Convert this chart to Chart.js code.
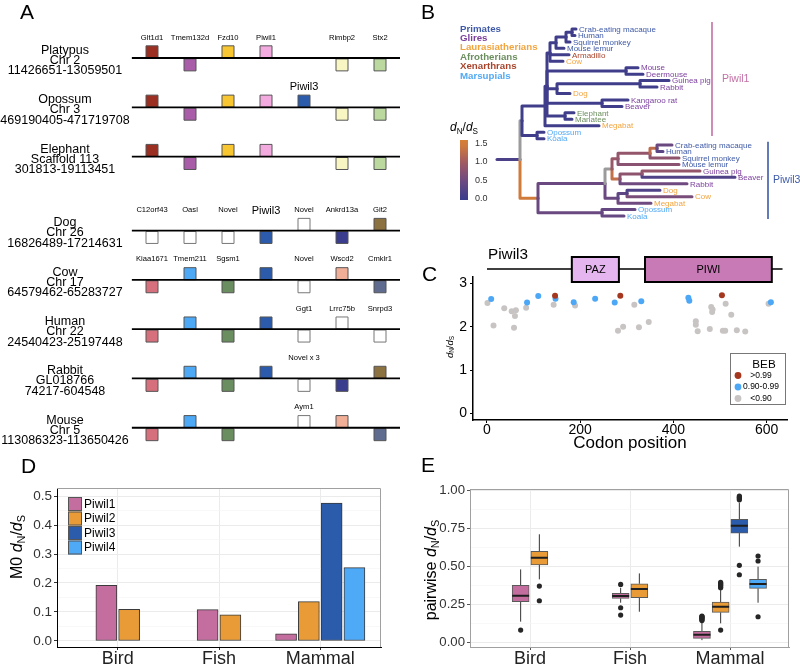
<!DOCTYPE html>
<html>
<head>
<meta charset="utf-8">
<title>Piwil3 evolution figure</title>
<script src="https://cdn.jsdelivr.net/npm/chart.js@4.4.1/dist/chart.umd.min.js"></script>
<style>
html,body{margin:0;padding:0;background:#fff;}
body{width:800px;height:667px;position:relative;overflow:hidden;font-family:"Liberation Sans",Arial,sans-serif;}
canvas{position:absolute;}
.plab{position:absolute;font-size:21px;line-height:21px;color:#000;font-family:"Liberation Sans",Arial,sans-serif;}
</style>
</head>
<body>
<canvas id="cA" width="400" height="460" style="left:0;top:0"></canvas>
<canvas id="cB" width="400" height="235" style="left:400px;top:0"></canvas>
<canvas id="cC" width="400" height="225" style="left:400px;top:235px"></canvas>
<canvas id="cD" width="400" height="197" style="left:0;top:470px"></canvas>
<canvas id="cE" width="400" height="197" style="left:400px;top:470px"></canvas>
<div class="plab" style="left:20px;top:1px">A</div>
<div class="plab" style="left:421px;top:1px">B</div>
<div class="plab" style="left:422px;top:263px">C</div>
<div class="plab" style="left:21px;top:455px">D</div>
<div class="plab" style="left:421px;top:454px">E</div>
<script>
const FONT = '"Liberation Sans", Arial, sans-serif';
Chart.defaults.font.family = FONT;
Chart.defaults.color = '#000';

/* ================= Panel A data ================= */
const speciesNames = ['Platypus','Opossum','Elephant','Dog','Cow','Human','Rabbit','Mouse'];
const speciesChr = ['Chr 2','Chr 3','Scaffold 113','Chr 26','Chr 17','Chr 22','GL018766','Chr 5'];
const speciesRange = ['11426651-13059501','469190405-471719708','301813-19113451','16826489-17214631','64579462-65283727','24540423-25197448','74217-604548','113086323-113650426'];
const trackRows = [0, 1, 2, 3.5, 4.5, 5.5, 6.5, 7.5];
const geneColor = {
  Glt1d1:'#9B2F22', Tmem132d:'#A95DA9', Fzd10:'#F8C631', Piwil1:'#F3AADF', Piwil3:'#2B5BAA',
  Rimbp2:'#F8F7C4', Stx2:'#BBD89F', Novel:'#FFFFFF', C12orf43:'#FFFFFF', Oasl:'#FFFFFF',
  Ankrd13a:'#3A3C8E', Git2:'#8C7141', Kiaa1671:'#D6707D', Tmem211:'#4DA8F6', Sgsm1:'#6A8E5F',
  Wscd2:'#F2AF98', Cmklr1:'#606C8F', Ggt1:'#FFFFFF', Lrrc75b:'#FFFFFF', Snrpd3:'#FFFFFF', Aym1:'#FFFFFF'
};
// [gene, column, strand side]
const genesPlatypus = [['Glt1d1',0,'up'],['Tmem132d',1,'down'],['Fzd10',2,'up'],['Piwil1',3,'up'],['Rimbp2',5,'down'],['Stx2',6,'down']];
const genesOpossum  = [['Glt1d1',0,'up'],['Tmem132d',1,'down'],['Fzd10',2,'up'],['Piwil1',3,'up'],['Piwil3',4,'up'],['Rimbp2',5,'down'],['Stx2',6,'down']];
const genesElephant = [['Glt1d1',0,'up'],['Tmem132d',1,'down'],['Fzd10',2,'up'],['Piwil1',3,'up'],['Rimbp2',5,'down'],['Stx2',6,'down']];
const genesDog      = [['C12orf43',0,'down'],['Oasl',1,'down'],['Novel',2,'down'],['Piwil3',3,'down'],['Novel',4,'up'],['Ankrd13a',5,'down'],['Git2',6,'up']];
const genesCow      = [['Kiaa1671',0,'down'],['Tmem211',1,'up'],['Sgsm1',2,'down'],['Piwil3',3,'up'],['Novel',4,'down'],['Wscd2',5,'up'],['Cmklr1',6,'down']];
const genesHuman    = [['Kiaa1671',0,'down'],['Tmem211',1,'up'],['Sgsm1',2,'down'],['Piwil3',3,'up'],['Ggt1',4,'down'],['Lrrc75b',5,'up'],['Snrpd3',6,'down']];
const genesRabbit   = [['Kiaa1671',0,'down'],['Tmem211',1,'up'],['Sgsm1',2,'down'],['Piwil3',3,'up'],['Novel',4,'down'],['Ankrd13a',5,'down'],['Git2',6,'up']];
const genesMouse    = [['Kiaa1671',0,'down'],['Tmem211',1,'up'],['Sgsm1',2,'down'],['Aym1',4,'up'],['Wscd2',5,'up'],['Cmklr1',6,'down']];
const speciesGenes = [genesPlatypus, genesOpossum, genesElephant, genesDog, genesCow, genesHuman, genesRabbit, genesMouse];
const labelRow  = [0,0,0,0,0,0, 1, 3,3,3,3,3,3,3, 4,4,4,4,4,4, 5,5,5, 6, 7];
const labelCol  = [0,1,2,3,5,6, 4, 0,1,2,3,4,5,6, 0,1,2,4,5,6, 4,5,6, 4, 4];
const labelText = ['Glt1d1','Tmem132d','Fzd10','Piwil1','Rimbp2','Stx2','Piwil3',
  'C12orf43','Oasl','Novel','Piwil3','Novel','Ankrd13a','Git2',
  'Kiaa1671','Tmem211','Sgsm1','Novel','Wscd2','Cmklr1','Ggt1','Lrrc75b','Snrpd3','Novel x 3','Aym1'];

/* ================= Panel B data ================= */
const groupNames = ['Primates','Glires','Laurasiatherians','Afrotherians','Xenarthrans','Marsupials'];
const groupColors = ['#3F5AA8','#7B3F9E','#F2A53F','#6C8F5F','#A9442C','#52A9F5'];
const tipNames = ['Crab-eating macaque','Human','Squirrel monkey','Mouse lemur','Armadillo','Cow','Mouse','Deermouse','Guinea pig','Rabbit','Dog','Kangaroo rat','Beaver','Elephant','Manatee','Megabat','Opossum','Koala',
  'Crab-eating macaque','Human','Squirrel monkey','Mouse lemur','Guinea pig','Beaver','Rabbit','Dog','Cow','Megabat','Opossum','Koala'];
const tipGroup = [0,0,0,0,4,2,1,1,1,1,2,1,1,3,3,2,5,5, 0,0,0,0,1,1,1,2,2,2,5,5];
const tipDepth = [79,78,73,67,72,66,141,146,172,160,73,131,125,77,75,102,47,47, 175,166,182,182,203,238,190,163,195,154,138,127];
const tipRatio = [0.05,0.05,0.05,0.05,0.05,0.05,0.05,0.05,0.05,0.05,0.05,0.05,0.05,0.05,0.05,0.05,0.05,0.05,
  0.45,0.3,0.8,0.75,0.85,0.2,0.5,0.2,0.6,0.5,0.4,0.4];
const nodeNames = ['C1','A1','Pr1','T1','MD1','GR1','GD1','KB1','EM1','Y1','M1','MP1','P1',
  'C3','A3','Pr3','GB3','Gl3','EG3','DC3','L3','E3','MP3','P3','Root'];
const nodeChildren = [[0,1],['C1',2],['A1',3],['Pr1',4,5],[6,7],[8,9],['GR1',10],[11,12],[13,14],['T1','MD1','GD1','KB1','EM1'],['Y1',15],[16,17],['M1','MP1'],
  [18,19],['C3',20],['A3',21],[22,23],['GB3',24],['Pr3','Gl3'],[25,26],['DC3',27],['EG3','L3'],[28,29],['E3','MP3'],['P1','P3']];
const nodeDepth = [75,69,59,53,129,143,60,105,68,50,48,40,25, 160,153,121,145,123,115,130,121,108,105,41,23];
const nodeRatio = [0.05,0.05,0.05,0.05,0.05,0.05,0.05,0.05,0.05,0.05,0.05,0.05,null,
  1.25,0.85,0.9,0.8,1.3,null,0.35,0.45,0.45,0.45,1.45,0.15];
const cladeNames = ['Piwil1','Piwil3'];
const cladeFirstTip = [0,18];
const cladeLastTip = [17,29];
const cladeColors = ['#C470A6','#3E5BA9'];
const rampValues = [0, 0.5, 1.0, 1.5];
const rampRGB = [[59,61,140],[111,74,128],[163,91,98],[214,127,54]];
const colorbarTicks = [0, 0.5, 1.0, 1.5];

/* ================= Panel C data ================= */
const proteinLength = 634;
const domainNames = ['PAZ','PIWI'];
const domainStart = [182, 339];
const domainEnd = [283, 611];
const domainFill = ['#E5B5F0','#C77AB6'];
const bebHighCodon = [146, 286, 504];
const bebHighOmega = [2.72, 2.72, 2.73];
const bebMidCodon = [9, 86, 110, 147, 186, 232, 274, 331, 432, 434, 609];
const bebMidOmega = [2.64, 2.56, 2.71, 2.65, 2.57, 2.65, 2.56, 2.59, 2.67, 2.60, 2.57];
const bebLowCodon = [1, 14, 37, 53, 62, 60, 58, 84, 143, 189, 316, 281, 292, 326, 347, 448, 448, 452, 478, 481, 484, 483, 512, 524, 506, 511, 536, 554, 604];
const bebLowOmega = [2.55, 2.03, 2.43, 2.36, 2.38, 2.25, 1.98, 2.44, 2.51, 2.49, 2.51, 1.91, 2.00, 1.99, 2.11, 2.13, 2.05, 1.90, 1.95, 2.46, 2.40, 2.34, 2.53, 2.28, 1.91, 1.91, 1.92, 1.89, 2.53];
const bebLabels = ['>0.99','0.90-0.99','<0.90'];
const bebColors = ['#A5371F','#4CA7F6','#C9C4C4'];

/* ================= Panel D data ================= */
const taxa = ['Bird','Fish','Mammal'];
const piwiGenes = ['Piwil1','Piwil2','Piwil3','Piwil4'];
const piwiColors = ['#C46E9F','#E89B36','#2B5BAB','#4EA9F7'];
const m0Piwil1 = [0.192, 0.108, 0.025];
const m0Piwil2 = [0.109, 0.090, 0.136];
const m0Piwil3 = [null, null, 0.476];
const m0Piwil4 = [null, null, 0.253];
const m0Values = [m0Piwil1, m0Piwil2, m0Piwil3, m0Piwil4];

/* ================= Panel E data ================= */
const bxTaxon = ['Bird','Bird','Fish','Fish','Mammal','Mammal','Mammal','Mammal'];
const bxGene = ['Piwil1','Piwil2','Piwil1','Piwil2','Piwil1','Piwil2','Piwil3','Piwil4'];
const bxLower  = [0.138, 0.415, 0.262, 0.203, 0.017, 0.127, 0.629, 0.262];
const bxQ1     = [0.269, 0.509, 0.290, 0.295, 0.028, 0.199, 0.718, 0.356];
const bxMedian = [0.308, 0.557, 0.306, 0.352, 0.052, 0.236, 0.766, 0.384];
const bxQ3     = [0.376, 0.598, 0.323, 0.386, 0.074, 0.266, 0.808, 0.415];
const bxUpper  = [0.480, 0.710, 0.360, 0.454, 0.138, 0.345, 0.917, 0.498];
const bxOutliers = [[0.083],[0.371,0.275],[0.382,0.229,0.181],[],
  [0.145,0.151,0.157,0.162,0.167,0.171,0.175],[0.083,0.360,0.367,0.374,0.381,0.388,0.395],
  [0.507,0.445,0.936,0.945,0.953,0.960],[0.568,0.535,0.170]];

/* ================= helpers ================= */
function rampColor(v) {
  if (v === null || v === undefined) return '#9B9B9B';
  v = Math.max(0, Math.min(1.5, v));
  let k = 0;
  while (k < rampValues.length - 2 && v > rampValues[k + 1]) k++;
  const t = (v - rampValues[k]) / (rampValues[k + 1] - rampValues[k]);
  const c = rampRGB[k].map((a, j) => Math.round(a + (rampRGB[k + 1][j] - a) * t));
  return 'rgb(' + c.join(',') + ')';
}
function drawRatio(ctx, x, y, size, prefix, align, color) {
  const sub = size * 0.68;
  const segs = [];
  if (prefix) segs.push({t: prefix, f: size + 'px ' + FONT, dy: 0});
  segs.push({t: 'd', f: 'italic ' + size + 'px ' + FONT, dy: 0});
  segs.push({t: 'N', f: sub + 'px ' + FONT, dy: size * 0.28});
  segs.push({t: '/', f: size + 'px ' + FONT, dy: 0});
  segs.push({t: 'd', f: 'italic ' + size + 'px ' + FONT, dy: 0});
  segs.push({t: 'S', f: sub + 'px ' + FONT, dy: size * 0.28});
  ctx.save();
  ctx.fillStyle = color || '#000';
  ctx.textBaseline = 'middle';
  ctx.textAlign = 'left';
  let w = 0;
  segs.forEach(s => { ctx.font = s.f; s.w = ctx.measureText(s.t).width; w += s.w; });
  let cx = align === 'center' ? x - w / 2 : x;
  segs.forEach(s => { ctx.font = s.f; ctx.fillText(s.t, cx, y + s.dy); cx += s.w; });
  ctx.restore();
}
function drawRatioRotated(ctx, x, y, size, prefix) {
  ctx.save();
  ctx.translate(x, y);
  ctx.rotate(-Math.PI / 2);
  drawRatio(ctx, 0, 0, size, prefix, 'center', '#000');
  ctx.restore();
}
const fixedTicks = list => s => { s.ticks = list.map(v => ({value: v})); };
const baseOpts = {
  responsive: false, animation: false, devicePixelRatio: 1, events: [],
  plugins: {legend: {display: false}, tooltip: {enabled: false}}
};

/* ================= Panel A chart ================= */
(function () {
  const boxPts = [];
  speciesGenes.forEach((list, r) => list.forEach(([g, c, side]) => {
    boxPts.push({x: c, y: trackRows[r] + (side === 'up' ? -0.125 : 0.14), g: g});
  }));
  const trackPts = [];
  trackRows.forEach(r => { trackPts.push({x: -0.53, y: r}, {x: 7, y: r}, {x: null, y: null}); });
  const textPlugin = {
    id: 'aText',
    afterDatasetsDraw(chart) {
      const {ctx} = chart, xs = chart.scales.x, ys = chart.scales.y;
      ctx.save();
      ctx.textAlign = 'center'; ctx.textBaseline = 'middle'; ctx.fillStyle = '#000';
      speciesNames.forEach((n, i) => {
        const px = xs.getPixelForValue(-2.29), py = ys.getPixelForValue(trackRows[i]);
        ctx.font = '12.5px ' + FONT;
        ctx.fillText(n, px, py - 7.5);
        ctx.fillText(speciesChr[i], px, py + 2.5);
        ctx.fillText(speciesRange[i], px, py + 13);
      });
      labelText.forEach((t, i) => {
        const big = t === 'Piwil3';
        ctx.font = (big ? '11px ' : '7.6px ') + FONT;
        ctx.fillText(t, xs.getPixelForValue(labelCol[i]), ys.getPixelForValue(trackRows[labelRow[i]]) - (big ? 20 : 20.5));
      });
      ctx.restore();
    }
  };
  new Chart(document.getElementById('cA'), {
    type: 'scatter',
    data: {datasets: [
      {data: trackPts, showLine: true, borderColor: '#000', borderWidth: 1.8, pointRadius: 0, spanGaps: false},
      {data: boxPts, pointStyle: 'rect', pointRadius: 8.49, borderWidth: 1,
        backgroundColor: c => geneColor[c.raw.g], borderColor: c => geneColor[c.raw.g] === '#FFFFFF' ? '#777' : '#555'}
    ]},
    options: Object.assign({}, baseOpts, {
      layout: {padding: 0, autoPadding: false},
      scales: {
        x: {type: 'linear', display: false, min: -4, max: 6.526},
        y: {type: 'linear', display: false, reverse: true, min: -1.176, max: 8.154}
      }
    }),
    plugins: [textPlugin]
  });
})();

/* ================= Panel B chart ================= */
(function () {
  const nodeIdx = {};
  nodeNames.forEach((n, i) => { nodeIdx[n] = i; });
  const isTip = r => typeof r === 'number';
  const depthOf = r => isTip(r) ? tipDepth[r] : nodeDepth[nodeIdx[r]];
  const ratioOf = r => isTip(r) ? tipRatio[r] : nodeRatio[nodeIdx[r]];
  const rowOf = r => {
    if (isTip(r)) return r;
    const ch = nodeChildren[nodeIdx[r]];
    return ch.reduce((s, c) => s + rowOf(c), 0) / ch.length;
  };
  const ds = [];
  const lineStyle = {showLine: true, pointRadius: 0, borderWidth: 3, borderCapStyle: 'round', borderJoinStyle: 'round'};
  nodeNames.forEach((n, i) => {
    nodeChildren[i].forEach(c => {
      ds.push(Object.assign({
        data: [{x: nodeDepth[i], y: rowOf(n)}, {x: nodeDepth[i], y: rowOf(c)}, {x: depthOf(c), y: rowOf(c)}],
        borderColor: rampColor(ratioOf(c))
      }, lineStyle));
    });
  });
  ds.push(Object.assign({data: [{x: 0, y: rowOf('Root')}, {x: depthOf('Root'), y: rowOf('Root')}], borderColor: rampColor(ratioOf('Root'))}, lineStyle));
  const cladeX = [215, 271];
  const cladePadTop = [1.1, 0.5], cladePadBottom = [-0.4, 0.46];
  cladeNames.forEach((n, k) => {
    ds.push({data: [{x: cladeX[k], y: cladeFirstTip[k] - cladePadTop[k]}, {x: cladeX[k], y: cladeLastTip[k] + cladePadBottom[k]}],
      showLine: true, pointRadius: 0, borderWidth: 1.6, borderColor: cladeColors[k]});
  });
  const textPlugin = {
    id: 'bText',
    afterDatasetsDraw(chart) {
      const {ctx} = chart, xs = chart.scales.x, ys = chart.scales.y;
      ctx.save();
      ctx.textBaseline = 'middle'; ctx.textAlign = 'left';
      ctx.font = '8px ' + FONT;
      tipNames.forEach((t, i) => {
        ctx.fillStyle = groupColors[tipGroup[i]];
        ctx.fillText(t, xs.getPixelForValue(tipDepth[i]) + 3, ys.getPixelForValue(i) + 0.5);
      });
      ctx.font = 'bold 9.7px ' + FONT;
      groupNames.forEach((g, i) => {
        ctx.fillStyle = groupColors[i];
        ctx.fillText(g, 60, 29 + i * 9.4);
      });
      ctx.font = '10.5px ' + FONT;
      cladeNames.forEach((n, k) => {
        ctx.fillStyle = cladeColors[k];
        const ymid = (ys.getPixelForValue(cladeFirstTip[k] - cladePadTop[k]) + ys.getPixelForValue(cladeLastTip[k] + cladePadBottom[k])) / 2;
        ctx.fillText(n, xs.getPixelForValue(cladeX[k]) + (k === 0 ? 10 : 5), ymid);
      });
      // colour bar
      const cbTop = 140, cbBot = 200, cbY = v => 199 - 37.3 * v;
      const grad = ctx.createLinearGradient(0, cbBot, 0, cbTop);
      for (let s = 0; s <= 10; s++) grad.addColorStop(s / 10, rampColor(-0.03 + s / 10 * 1.61));
      ctx.fillStyle = grad;
      ctx.fillRect(60, cbTop, 8, cbBot - cbTop);
      ctx.fillStyle = '#333';
      ctx.font = '9px ' + FONT;
      colorbarTicks.forEach(v => ctx.fillText(v.toFixed(1), 75, cbY(v)));
      ctx.restore();
      drawRatio(ctx, 50, 128, 12, '', 'left', '#000');
    }
  };
  new Chart(document.getElementById('cB'), {
    type: 'scatter',
    data: {datasets: ds},
    options: Object.assign({}, baseOpts, {
      layout: {padding: 0, autoPadding: false},
      scales: {
        x: {type: 'linear', display: false, min: -97, max: 303},
        y: {type: 'linear', display: false, reverse: true, min: -4.496, max: 31.938}
      }
    }),
    plugins: [textPlugin]
  });
})();

/* ================= Panel C chart ================= */
(function () {
  const toPts = (cs, os) => cs.map((c, i) => ({x: c, y: os[i]}));
  const domainPlugin = {
    id: 'domains',
    afterDraw(chart) {
      const {ctx, chartArea: a} = chart, xs = chart.scales.x;
      ctx.save();
      const ly = a.top - 8;
      ctx.strokeStyle = '#000'; ctx.lineWidth = 1.5;
      ctx.beginPath(); ctx.moveTo(xs.getPixelForValue(0), ly); ctx.lineTo(xs.getPixelForValue(proteinLength), ly); ctx.stroke();
      domainNames.forEach((n, i) => {
        const x0 = xs.getPixelForValue(domainStart[i]), x1 = xs.getPixelForValue(domainEnd[i]);
        ctx.fillStyle = domainFill[i];
        ctx.fillRect(x0, a.top - 20, x1 - x0, 25);
        ctx.lineWidth = 2; ctx.strokeStyle = '#000';
        ctx.strokeRect(x0, a.top - 20, x1 - x0, 25);
        ctx.fillStyle = '#000'; ctx.font = '11px ' + FONT; ctx.textAlign = 'center'; ctx.textBaseline = 'middle';
        ctx.fillText(n, (x0 + x1) / 2, a.top - 7);
      });
      ctx.font = '15.3px ' + FONT; ctx.textAlign = 'left'; ctx.textBaseline = 'middle';
      ctx.fillText('Piwil3', xs.getPixelForValue(0) + 1, a.top - 22);
      // BEB legend
      ctx.strokeStyle = '#777'; ctx.lineWidth = 1;
      ctx.fillStyle = '#fff';
      ctx.fillRect(330.5, 118.5, 55, 51);
      ctx.strokeRect(330.5, 118.5, 55, 51);
      ctx.fillStyle = '#000'; ctx.font = '11.7px ' + FONT; ctx.textAlign = 'center';
      ctx.fillText('BEB', 364, 129.5);
      bebLabels.forEach((l, i) => {
        const yy = 140.5 + i * 11.5;
        ctx.fillStyle = bebColors[i];
        ctx.beginPath(); ctx.arc(338, yy, 3.4, 0, Math.PI * 2); ctx.fill();
        ctx.fillStyle = '#000'; ctx.font = '8.5px ' + FONT;
        ctx.fillText(l, 361, yy);
      });
      ctx.restore();
      drawRatioRotated(ctx, 50, 112, 9.5, '');
    }
  };
  new Chart(document.getElementById('cC'), {
    type: 'scatter',
    data: {datasets: [
      {data: toPts(bebHighCodon, bebHighOmega), backgroundColor: bebColors[0], pointRadius: 3, borderWidth: 0},
      {data: toPts(bebMidCodon, bebMidOmega), backgroundColor: bebColors[1], pointRadius: 3, borderWidth: 0},
      {data: toPts(bebLowCodon, bebLowOmega), backgroundColor: bebColors[2], pointRadius: 3, borderWidth: 0}
    ]},
    options: Object.assign({}, baseOpts, {
      layout: {padding: {top: 42, right: 13, left: 0, bottom: 0}, autoPadding: false},
      scales: {
        x: {type: 'linear', min: -30, max: 643.6, afterBuildTicks: fixedTicks([0, 200, 400, 600]),
          ticks: {font: {size: 14, lineHeight: 1}, color: '#000', padding: 0, maxRotation: 0, autoSkip: false},
          grid: {display: true, drawOnChartArea: false, color: '#000', tickColor: '#000', tickLength: 3},
          border: {display: true, color: '#000', width: 1.5},
          title: {display: true, text: 'Codon position', font: {size: 17}, color: '#000', padding: {top: 0, bottom: 6}},
          afterFit: s => { s.height = 40; }},
        y: {type: 'linear', min: -0.15, max: 3.15, afterBuildTicks: fixedTicks([0, 1, 2, 3]),
          ticks: {font: {size: 14}, color: '#000', padding: 3},
          grid: {display: true, drawOnChartArea: false, color: '#000', tickColor: '#000', tickLength: 3},
          border: {display: true, color: '#000', width: 1.5},
          afterFit: s => { s.width = 73; }}
      }
    }),
    plugins: [domainPlugin]
  });
})();

/* ================= Panel D chart ================= */
function dodgePositions(presentFlags, width) {
  const n = presentFlags.filter(Boolean).length;
  let k = 0;
  return presentFlags.map(p => p ? (k++ - (n - 1) / 2) * width : null);
}
const frameTopRight = color => ({
  id: 'frameTR',
  afterDatasetsDraw(chart) {
    const {ctx, chartArea: a} = chart;
    ctx.save(); ctx.strokeStyle = color; ctx.lineWidth = 1;
    ctx.beginPath(); ctx.moveTo(a.left, a.top + 0.5); ctx.lineTo(a.right - 0.5, a.top + 0.5); ctx.lineTo(a.right - 0.5, a.bottom); ctx.stroke();
    ctx.restore();
  }
});
(function () {
  const offsets = taxa.map((t, c) => dodgePositions(m0Values.map(v => v[c] !== null), 0.225));
  const ds = piwiGenes.map((g, gi) => ({
    type: 'bar',
    data: taxa.map((t, c) => m0Values[gi][c] === null ? null : {x: c + offsets[c][gi], y: m0Values[gi][c]}).filter(Boolean),
    backgroundColor: piwiColors[gi], borderColor: '#3a3a3a', borderWidth: 1, borderSkipped: false,
    barThickness: 21, grouped: false
  }));
  const isMajor = v => Math.round(v * 20) % 2 === 0;
  const legendPlugin = {
    id: 'dLegend',
    afterDraw(chart) {
      const {ctx} = chart;
      ctx.save();
      piwiGenes.forEach((g, i) => {
        const y = 34 + i * 14.5;
        ctx.fillStyle = piwiColors[i]; ctx.fillRect(68, y - 7, 14, 14);
        ctx.strokeStyle = '#555'; ctx.lineWidth = 1; ctx.strokeRect(68.5, y - 6.5, 13, 13);
        ctx.fillStyle = '#000'; ctx.font = '12px ' + FONT; ctx.textAlign = 'left'; ctx.textBaseline = 'middle';
        ctx.fillText(g, 84, y + 0.5);
      });
      ctx.restore();
      drawRatioRotated(ctx, 18, 77, 16, 'M0 ');
    }
  };
  new Chart(document.getElementById('cD'), {
    type: 'bar',
    data: {datasets: ds},
    options: Object.assign({}, baseOpts, {
      layout: {padding: {top: 18, right: 19, left: 0, bottom: 0}, autoPadding: false},
      scales: {
        x: {type: 'linear', min: -0.6, max: 2.6, offset: false, afterBuildTicks: fixedTicks([0, 1, 2]),
          ticks: {callback: v => taxa[v], font: {size: 18, lineHeight: 1}, color: '#222', padding: 0, autoSkip: false, maxRotation: 0},
          grid: {offset: false, color: '#EBEBEB', tickColor: '#333', tickLength: 3},
          border: {display: true, color: '#000', width: 1},
          afterFit: s => { s.height = 20; }},
        y: {type: 'linear', min: -0.0207, max: 0.5276,
          afterBuildTicks: fixedTicks([0,1,2,3,4,5,6,7,8,9,10].map(k => k / 20)),
          ticks: {callback: v => isMajor(v) ? v.toFixed(1) : '', font: {size: 13.5}, color: '#333', padding: 2, autoSkip: false},
          grid: {color: c => isMajor(c.tick.value) ? '#EBEBEB' : '#F5F5F5', lineWidth: c => isMajor(c.tick.value) ? 1 : 0.7,
            tickColor: c => isMajor(c.tick.value) ? '#333' : 'rgba(0,0,0,0)', tickLength: 3},
          border: {display: true, color: '#000', width: 1},
          afterFit: s => { s.width = 57; }}
      }
    }),
    plugins: [frameTopRight('#A0A0A0'), legendPlugin]
  });
})();

/* ================= Panel E chart ================= */
(function () {
  const pos = bxTaxon.map((t, i) => {
    const members = bxTaxon.map((tt, j) => tt === t ? j : -1).filter(j => j >= 0);
    const k = members.indexOf(i), n = members.length;
    return taxa.indexOf(t) + (k - (n - 1) / 2) * 0.187;
  });
  const half = 0.085;
  const whisk = [], meds = [], outs = [];
  pos.forEach((x, i) => {
    whisk.push({x: x, y: bxLower[i]}, {x: x, y: bxQ1[i]}, {x: x, y: null}, {x: x, y: bxQ3[i]}, {x: x, y: bxUpper[i]}, {x: x, y: null});
    meds.push({x: x - half, y: bxMedian[i]}, {x: x + half, y: bxMedian[i]}, {x: x, y: null});
    bxOutliers[i].forEach(o => outs.push({x: x, y: o}));
  });
  const ds = [
    {type: 'scatter', data: outs, backgroundColor: '#262626', pointRadius: 2.6, borderWidth: 0, order: 0},
    {type: 'line', data: meds, borderColor: '#1e1e1e', borderWidth: 2, pointRadius: 0, spanGaps: false, order: 1}
  ];
  piwiGenes.forEach((g, gi) => {
    const idx = bxGene.map((gg, i) => gg === g ? i : -1).filter(i => i >= 0);
    ds.push({type: 'bar', data: idx.map(i => ({x: pos[i], y: [bxQ1[i], bxQ3[i]]})),
      backgroundColor: piwiColors[gi], borderColor: '#5a5a5a', borderWidth: 1, borderSkipped: false,
      barThickness: 17, grouped: false, order: 2});
  });
  ds.push({type: 'line', data: whisk, borderColor: '#333', borderWidth: 1, pointRadius: 0, spanGaps: false, order: 3});
  const isMajor = v => Math.round(v * 8) % 2 === 0;
  const titlePlugin = {
    id: 'eTitle',
    afterDraw(chart) { drawRatioRotated(chart.ctx, 32, 100, 16, 'pairwise '); }
  };
  new Chart(document.getElementById('cE'), {
    type: 'bar',
    data: {datasets: ds},
    options: Object.assign({}, baseOpts, {
      layout: {padding: {top: 19, right: 11, left: 0, bottom: 0}, autoPadding: false},
      scales: {
        x: {type: 'linear', min: -0.6, max: 2.59, offset: false, afterBuildTicks: fixedTicks([0, 1, 2]),
          ticks: {callback: v => taxa[v], font: {size: 18, lineHeight: 1}, color: '#222', padding: 0, autoSkip: false, maxRotation: 0},
          grid: {offset: false, color: '#EBEBEB', tickColor: '#555', tickLength: 3},
          border: {display: true, color: '#A0A0A0', width: 1},
          afterFit: s => { s.height = 20; }},
        y: {type: 'linear', min: -0.028, max: 1.0066,
          afterBuildTicks: fixedTicks([0,1,2,3,4,5,6,7,8].map(k => k / 8)),
          ticks: {callback: v => isMajor(v) ? v.toFixed(2) : '', font: {size: 13.2}, color: '#333', padding: 2, autoSkip: false},
          grid: {color: c => isMajor(c.tick.value) ? '#EBEBEB' : '#F5F5F5', lineWidth: c => isMajor(c.tick.value) ? 1 : 0.7,
            tickColor: c => isMajor(c.tick.value) ? '#555' : 'rgba(0,0,0,0)', tickLength: 3},
          border: {display: true, color: '#A0A0A0', width: 1},
          afterFit: s => { s.width = 70; }}
      }
    }),
    plugins: [frameTopRight('#A0A0A0'), titlePlugin]
  });
})();
</script>
</body>
</html>
